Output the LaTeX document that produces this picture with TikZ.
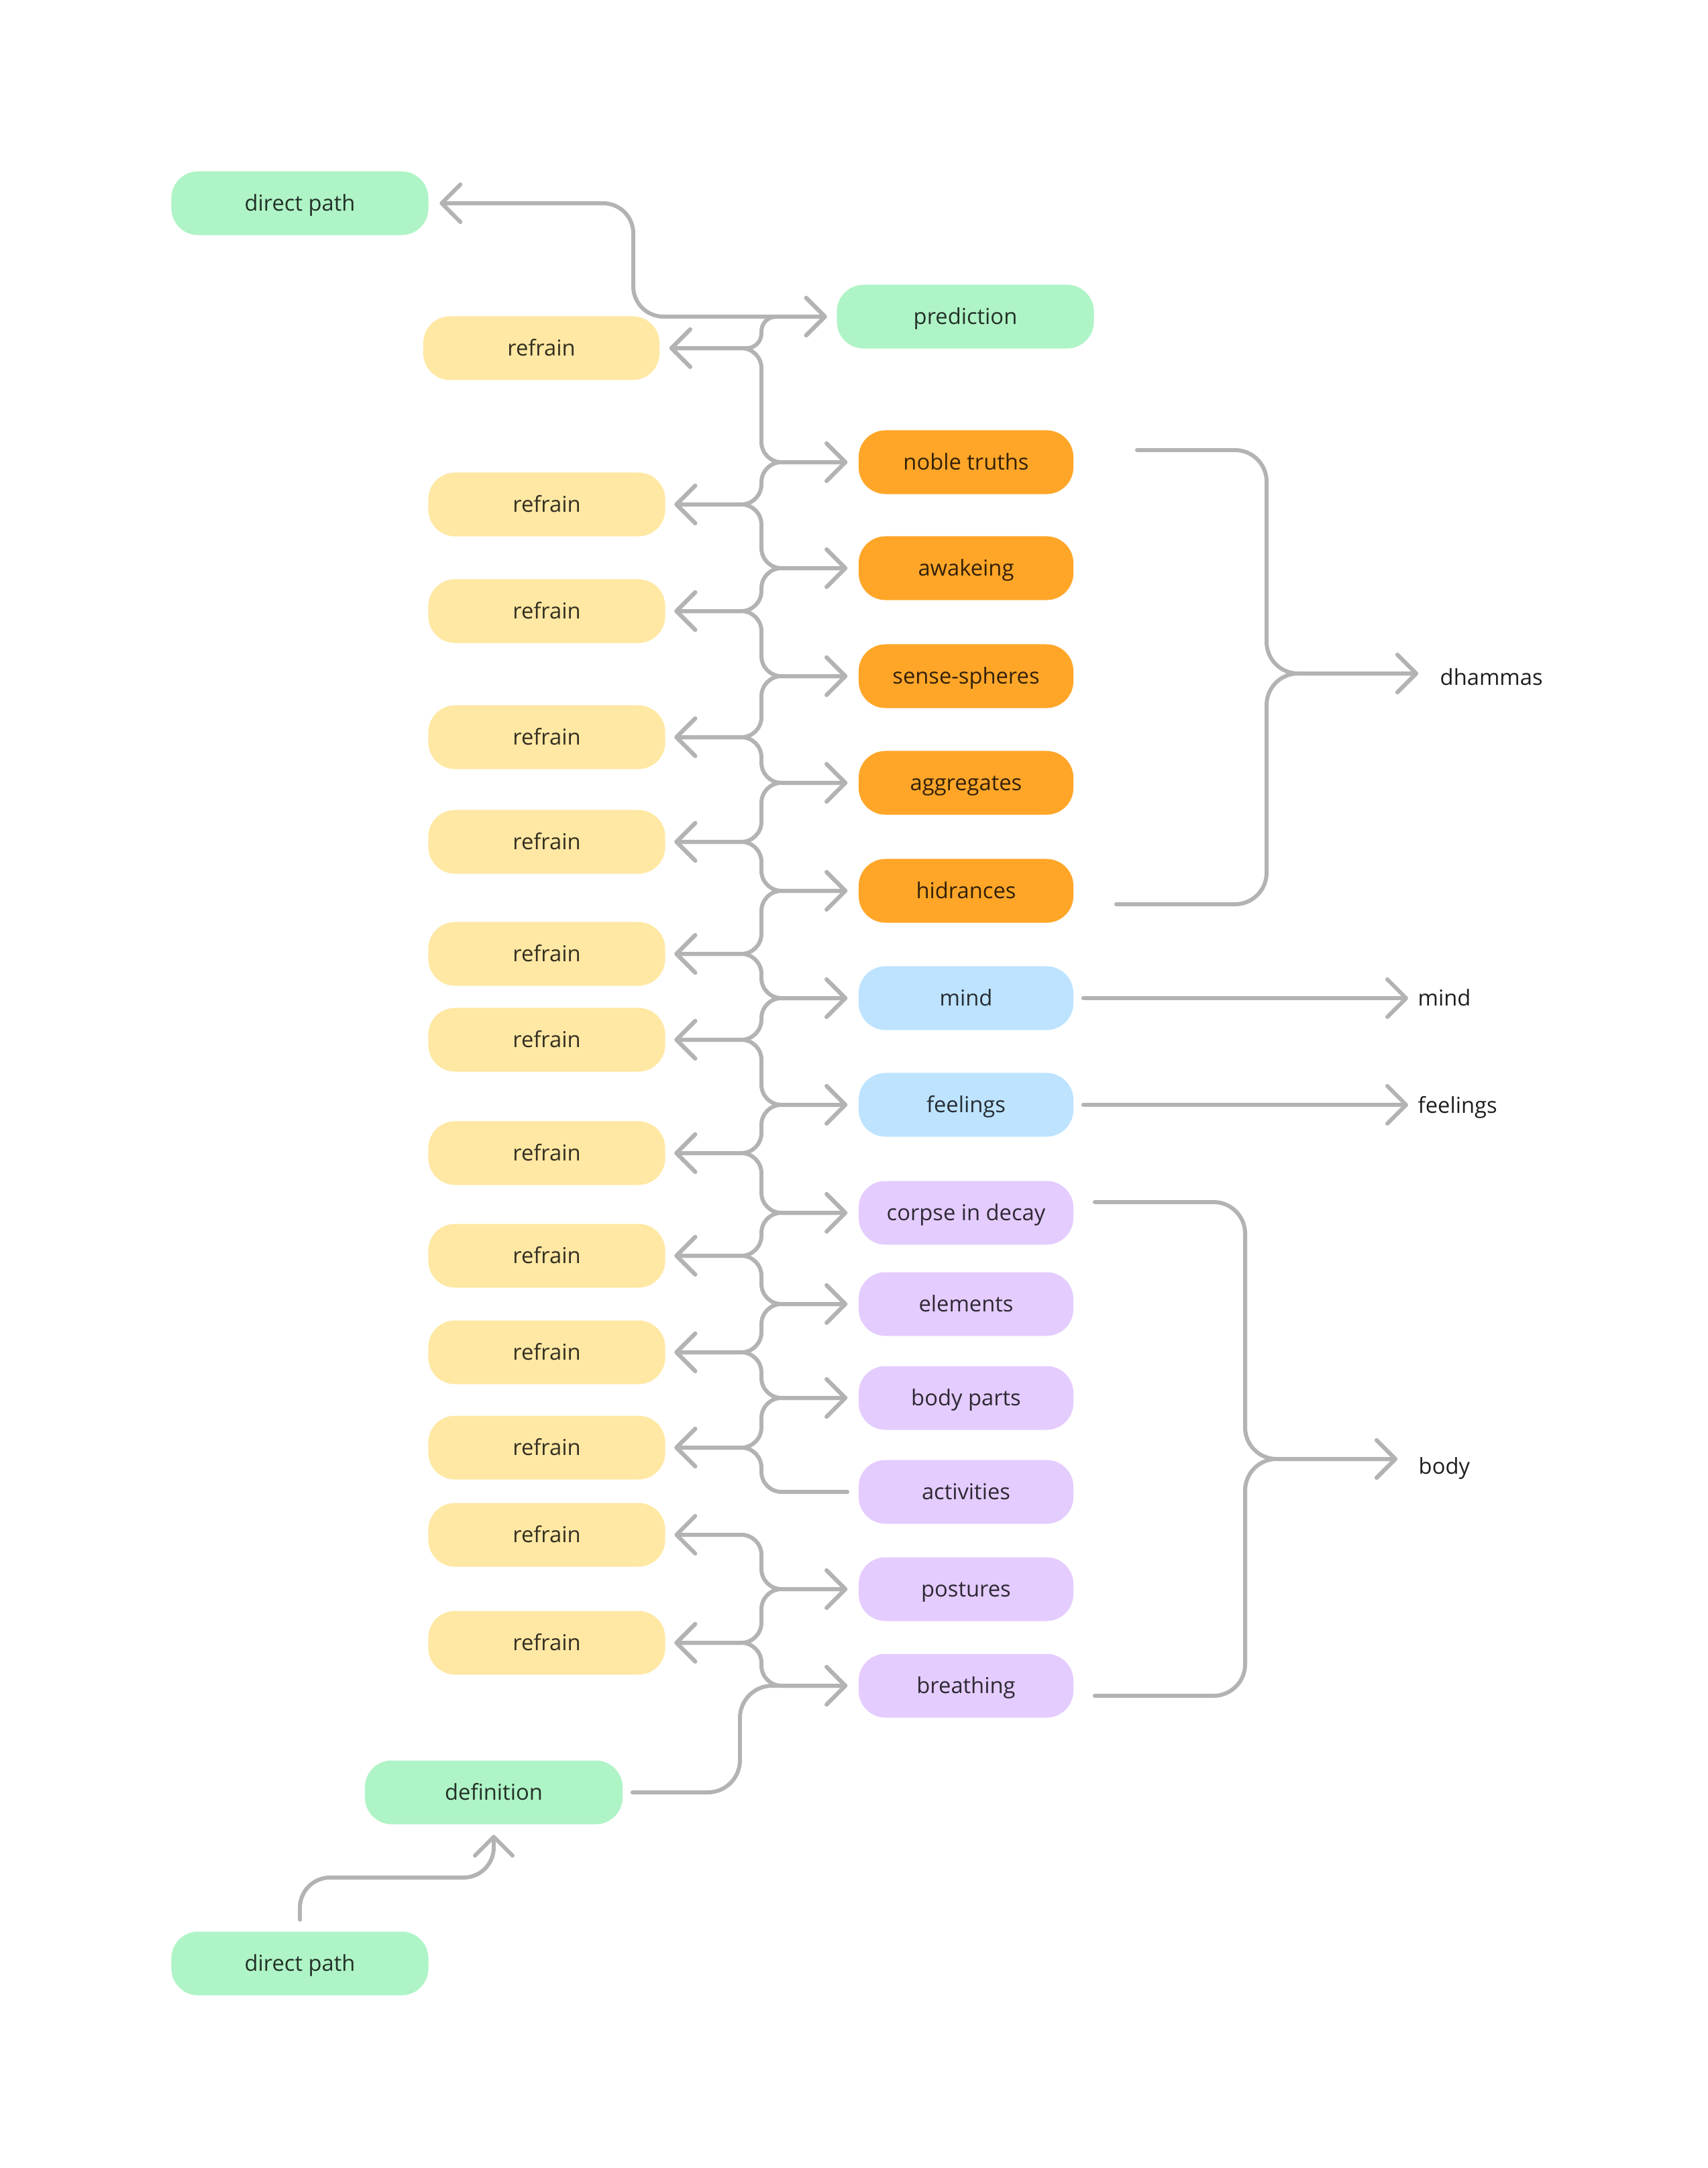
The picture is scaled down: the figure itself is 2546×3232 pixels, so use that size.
\documentclass[tikz,border=0pt]{standalone}
\usepackage{fontspec}
\setmainfont{Open Sans}
\usetikzlibrary{positioning}
\usetikzlibrary{arrows.meta}
\definecolor{gline}{HTML}{B3B3B3}
\definecolor{cgreen}{HTML}{AFF4C6}
\definecolor{cyellow}{HTML}{FFE8A3}
\definecolor{corange}{HTML}{FFA629}
\definecolor{cblue}{HTML}{BDE3FF}
\definecolor{cviolet}{HTML}{E4CCFF}
\definecolor{ctext}{HTML}{1E1E1E}
\tikzset{
    box/.style = {rectangle, rounded corners=4mm, inner sep=0pt, minimum height=0.95cm, text height=2.7mm, text depth=0.5mm, font=\fontsize{9.3}{11}\selectfont},
    boxg/.style = {box, fill=cgreen, text=cgreen!20!black, minimum width=3.83cm},
    boxy/.style = {box, fill=cyellow, text=cyellow!20!black, minimum width=3.53cm},
    boxo/.style = {box, fill=corange, text=corange!20!black, minimum width=3.2cm},
    boxb/.style = {box, fill=cblue, text=cblue!20!black, minimum width=3.2cm},
    boxp/.style = {box, fill=cviolet, text=cviolet!20!black, minimum width=3.2cm},
    lab/.style = {anchor=base west, inner sep=0pt, text=ctext, font=\fontsize{9.3}{11}\selectfont},
    edgeg/.style = {draw=gline, line width=1.7pt, line cap=round, rounded corners=3mm},
    >={Straight Barb[length=2.8mm,width=5.6mm,round]}
}

\begin{document}
\begin{tikzpicture}[x=0.01cm,y=-0.01cm]
\path[use as bounding box] (0,0) rectangle (2546,3232);
%
\node[boxg] at (447,303) (dpt) {direct path};
\node[boxg] at (1439,472) (pred) {prediction};
\node[boxy,minimum width=3.52cm] at (807,519) (ref1) {refrain};
\node[boxo] at (1440,689) (nt) {noble truths};
\node[boxy] at (815,752) (ref2) {refrain};
\node[boxo] at (1440,847) (aw) {awakeing};
\node[boxy] at (815,911) (ref3) {refrain};
\node[boxo] at (1440,1008) (ss) {sense-spheres};
\node[boxy] at (815,1099) (ref4) {refrain};
\node[boxo] at (1440,1167) (agg) {aggregates};
\node[boxy] at (815,1255) (ref5) {refrain};
\node[boxo] at (1440,1328) (hid) {hidrances};
\node[boxy] at (815,1422) (ref6) {refrain};
\node[boxb] at (1440,1488) (mind) {mind};
\node[boxy] at (815,1550) (ref7) {refrain};
\node[boxb] at (1440,1647) (feel) {feelings};
\node[boxy] at (815,1719) (ref8) {refrain};
\node[boxp] at (1440,1808) (corpse) {corpse in decay};
\node[boxy] at (815,1872) (ref9) {refrain};
\node[boxp] at (1440,1944) (elem) {elements};
\node[boxy] at (815,2016) (ref10) {refrain};
\node[boxp] at (1440,2084) (bp) {body parts};
\node[boxy] at (815,2158) (ref11) {refrain};
\node[boxp] at (1440,2224) (act) {activities};
\node[boxy] at (815,2288) (ref12) {refrain};
\node[boxp] at (1440,2369) (post) {postures};
\node[boxy] at (815,2449) (ref13) {refrain};
\node[boxp] at (1440,2513) (breath) {breathing};
\node[boxg,minimum width=3.84cm] at (736,2672) (def) {definition};
\node[boxg] at (447,2927) (dpb) {direct path};
%
\node[lab] at (2146,1021) (dham) {dhammas};
\node[lab] at (2113,1499) (mindl) {mind};
\node[lab] at (2113,1659) (feell) {feelings};
\node[lab] at (2114,2197) (body) {body};
%
\coordinate (sp0) at (944,0);
\coordinate (sp) at (1135,0);
\coordinate (sp2) at (1103,0);
\coordinate (lvl) at (0,2799);
\coordinate (dhj) at (1888,1004);
\coordinate (bdj) at (1856,2175);
\coordinate (dh1) at ([xshift=.94cm,yshift=.18cm]nt.east);
\coordinate (dh2) at ([xshift=.63cm,yshift=-.2cm]hid.east);
\coordinate (dht) at ([xshift=-.32cm]dham.west);
\coordinate (bd1) at ([xshift=.31cm,yshift=.16cm]corpse.east);
\coordinate (bd2) at ([xshift=.31cm,yshift=-.15cm]breath.east);
\coordinate (bdt) at ([xshift=-.31cm]body.west);
\coordinate (mdt) at ([xshift=-.14cm]mindl.west);
\coordinate (fet) at ([xshift=-.14cm]feell.west);
%
\draw[edgeg,<->,rounded corners=4.5mm] ([xshift=.16cm]dpt.east) -- (dpt.east -| sp0) -- (pred.west -| sp0) -- ([xshift=-.14cm]pred.west);
\draw[edgeg,<->,rounded corners=2.2mm] ([xshift=-.14cm]pred.west) -- (pred.west -| sp) -- (ref1.east -| sp) -- ([xshift=.14cm]ref1.east);
\draw[edgeg,<->] ([xshift=.14cm]ref1.east) -- (ref1.east -| sp) -- (nt.west -| sp) -- ([xshift=-.16cm]nt.west);
\draw[edgeg,<->] ([xshift=-.16cm]nt.west) -- (nt.west -| sp) -- (ref2.east -| sp) -- ([xshift=.13cm]ref2.east);
\draw[edgeg,<->] ([xshift=.13cm]ref2.east) -- (ref2.east -| sp) -- (aw.west -| sp) -- ([xshift=-.16cm]aw.west);
\draw[edgeg,<->] ([xshift=-.16cm]aw.west) -- (aw.west -| sp) -- (ref3.east -| sp) -- ([xshift=.13cm]ref3.east);
\draw[edgeg,<->] ([xshift=.13cm]ref3.east) -- (ref3.east -| sp) -- (ss.west -| sp) -- ([xshift=-.16cm]ss.west);
\draw[edgeg,<->] ([xshift=-.16cm]ss.west) -- (ss.west -| sp) -- (ref4.east -| sp) -- ([xshift=.13cm]ref4.east);
\draw[edgeg,<->] ([xshift=.13cm]ref4.east) -- (ref4.east -| sp) -- (agg.west -| sp) -- ([xshift=-.16cm]agg.west);
\draw[edgeg,<->] ([xshift=-.16cm]agg.west) -- (agg.west -| sp) -- (ref5.east -| sp) -- ([xshift=.13cm]ref5.east);
\draw[edgeg,<->] ([xshift=.13cm]ref5.east) -- (ref5.east -| sp) -- (hid.west -| sp) -- ([xshift=-.16cm]hid.west);
\draw[edgeg,<->] ([xshift=-.16cm]hid.west) -- (hid.west -| sp) -- (ref6.east -| sp) -- ([xshift=.13cm]ref6.east);
\draw[edgeg,<->] ([xshift=.13cm]ref6.east) -- (ref6.east -| sp) -- (mind.west -| sp) -- ([xshift=-.16cm]mind.west);
\draw[edgeg,<->] ([xshift=-.16cm]mind.west) -- (mind.west -| sp) -- (ref7.east -| sp) -- ([xshift=.13cm]ref7.east);
\draw[edgeg,<->] ([xshift=.13cm]ref7.east) -- (ref7.east -| sp) -- (feel.west -| sp) -- ([xshift=-.16cm]feel.west);
\draw[edgeg,<->] ([xshift=-.16cm]feel.west) -- (feel.west -| sp) -- (ref8.east -| sp) -- ([xshift=.13cm]ref8.east);
\draw[edgeg,<->] ([xshift=.13cm]ref8.east) -- (ref8.east -| sp) -- (corpse.west -| sp) -- ([xshift=-.16cm]corpse.west);
\draw[edgeg,<->] ([xshift=-.16cm]corpse.west) -- (corpse.west -| sp) -- (ref9.east -| sp) -- ([xshift=.13cm]ref9.east);
\draw[edgeg,<->] ([xshift=.13cm]ref9.east) -- (ref9.east -| sp) -- (elem.west -| sp) -- ([xshift=-.16cm]elem.west);
\draw[edgeg,<->] ([xshift=-.16cm]elem.west) -- (elem.west -| sp) -- (ref10.east -| sp) -- ([xshift=.13cm]ref10.east);
\draw[edgeg,<->] ([xshift=.13cm]ref10.east) -- (ref10.east -| sp) -- (bp.west -| sp) -- ([xshift=-.16cm]bp.west);
\draw[edgeg,<->] ([xshift=-.16cm]bp.west) -- (bp.west -| sp) -- (ref11.east -| sp) -- ([xshift=.13cm]ref11.east);
\draw[edgeg,<-] ([xshift=.13cm]ref11.east) -- (ref11.east -| sp) -- (act.west -| sp) -- ([xshift=-.16cm]act.west);
\draw[edgeg,<->] ([xshift=.13cm]ref12.east) -- (ref12.east -| sp) -- (post.west -| sp) -- ([xshift=-.16cm]post.west);
\draw[edgeg,<->] ([xshift=-.16cm]post.west) -- (post.west -| sp) -- (ref13.east -| sp) -- ([xshift=.13cm]ref13.east);
\draw[edgeg,<->] ([xshift=.13cm]ref13.east) -- (ref13.east -| sp) -- (breath.west -| sp) -- ([xshift=-.16cm]breath.west);
\draw[edgeg,->,rounded corners=4.8mm] ([xshift=.14cm]def.east) -- (def.east -| sp2) -- (breath.west -| sp2) -- ([xshift=-.16cm]breath.west);
\draw[edgeg,->,rounded corners=4.5mm] ([yshift=.17cm]dpb.north) -- (dpb.north |- lvl) -- (def.south |- lvl) -- ([yshift=-.15cm]def.south);
%
\draw[edgeg,->,rounded corners=4.7mm] (dh1) -- (dh1 -| dhj) -- (dhj) -- (dhj -| dht);
\draw[edgeg,->,rounded corners=4.7mm] (dh2) -- (dh2 -| dhj) -- (dhj) -- (dhj -| dht);
\draw[edgeg,->] ([xshift=.14cm]mind.east) -- (mind.east -| mdt);
\draw[edgeg,->] ([xshift=.14cm]feel.east) -- (feel.east -| fet);
\draw[edgeg,->,rounded corners=4.7mm] (bd1) -- (bd1 -| bdj) -- (bdj) -- (bdj -| bdt);
\draw[edgeg,->,rounded corners=4.7mm] (bd2) -- (bd2 -| bdj) -- (bdj) -- (bdj -| bdt);
\end{tikzpicture}
\end{document}
